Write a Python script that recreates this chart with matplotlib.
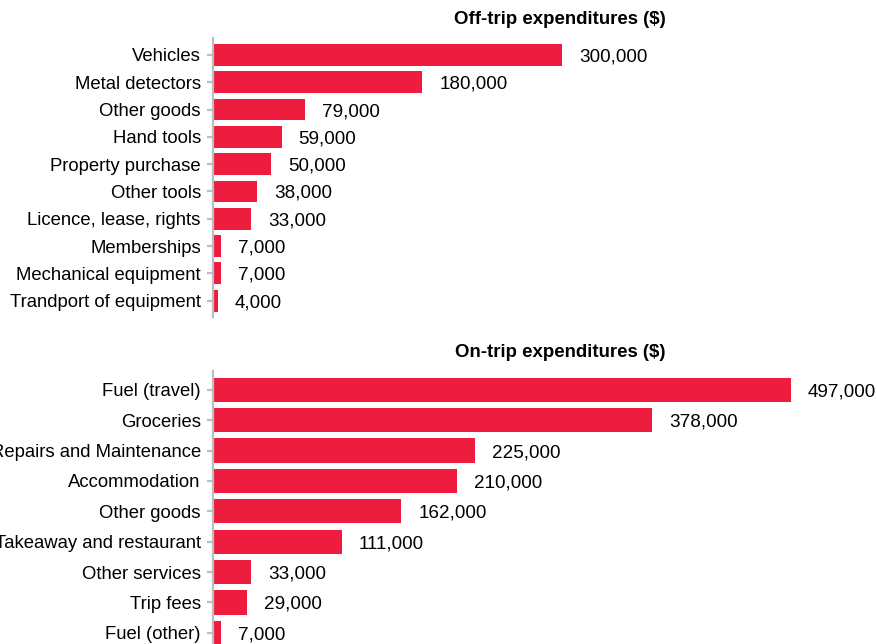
import matplotlib.pyplot as plt

plt.rcParams['font.family'] = ['Liberation Sans', 'DejaVu Sans']

# Off-trip spending
off_items = ["Vehicles", "Metal detectors", "Other goods", "Hand tools",
             "Property purchase", "Other tools", "Licence, lease, rights",
             "Memberships", "Mechanical equipment", "Trandport of equipment"]
off_values = [300000, 180000, 79000, 59000, 50000, 38000, 33000, 7000, 7000, 4000]

# On-trip spending
on_items = ["Fuel (travel)", "Groceries", "Repairs and Maintenance", "Accommodation",
            "Other goods", "Takeaway and restaurant", "Other services", "Trip fees",
            "Fuel (other)"]
on_values = [497000, 378000, 225000, 210000, 162000, 111000, 33000, 29000, 7000]

BAR = '#EE1C3E'
AXIS = '#BDBDBD'
W, H = 877, 644


def px_axes(fig, x0, y0, x1, y1):
    # axes placed by pixel box (top-left origin)
    return fig.add_axes([x0 / W, (H - y1) / H, (x1 - x0) / W, (y1 - y0) / H])


def draw_panel(ax, items, values, title):
    pos = list(range(len(items)))
    ax.barh(pos, values, height=0.8, color=BAR)
    ax.set_yticks(pos)
    ax.set_yticklabels(items, fontsize=13.3, va='center_baseline')
    ax.set_ylim(len(items) - 0.4, -0.62)
    ax.set_xlim(0, 597000)
    for p, v in zip(pos, values):
        ax.annotate(f"{v:,}", (v, p), xytext=(17, 0), textcoords='offset pixels',
                    va='center_baseline', ha='left', fontsize=13.6)
    for s in ['top', 'right', 'bottom']:
        ax.spines[s].set_visible(False)
    ax.spines['left'].set_color(AXIS)
    ax.spines['left'].set_linewidth(1.6)
    ax.tick_params(axis='y', length=4.5, width=1.6, color=AXIS, pad=4.3)
    ax.tick_params(axis='x', bottom=False, labelbottom=False)
    ax.set_title(title, fontsize=13.4, fontweight='bold', pad=10)


fig = plt.figure(figsize=(W / 100, H / 100), dpi=100)
ax_off = px_axes(fig, 213, 38, 907, 317)
ax_on = px_axes(fig, 213, 371, 907, 651)
draw_panel(ax_off, off_items, off_values, "Off-trip expenditures ($)")
draw_panel(ax_on, on_items, on_values, "On-trip expenditures ($)")

fig.savefig("out.png", dpi=100)
